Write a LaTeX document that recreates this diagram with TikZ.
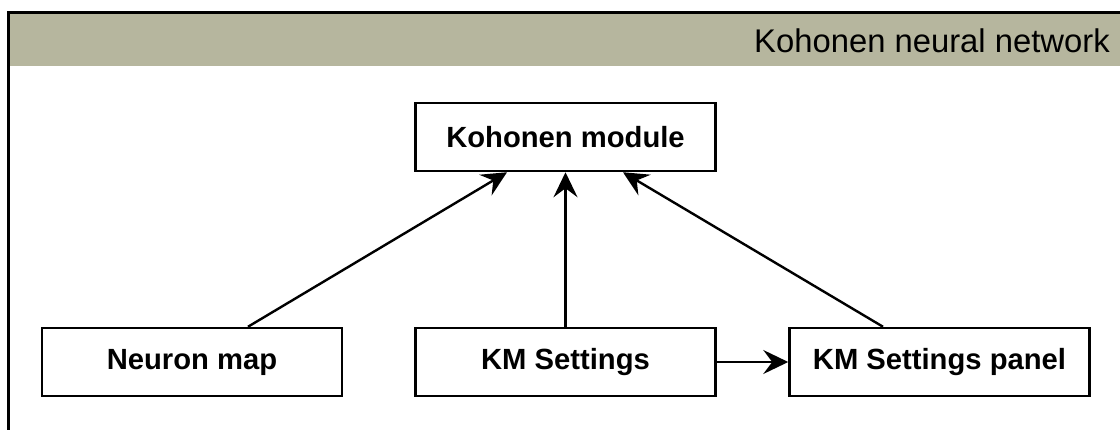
\documentclass[tikz,border=0pt]{standalone}
\usepackage{fontspec}
\setmainfont{Liberation Sans}
\usetikzlibrary{arrows.meta}
\definecolor{headercol}{RGB}{182,182,158}
\begin{document}
\begin{tikzpicture}[x=1pt,y=-1pt,
  box/.style={draw=black, line width=2.5pt, fill=white, minimum width=300pt, minimum height=68pt, inner sep=0pt, font=\fontsize{29.2}{33}\selectfont\bfseries},
  conn/.style={line width=2.4pt, -{Stealth[length=25pt,width=24pt,inset=9pt]}},
  titletext/.style={anchor=base east, inner sep=0pt, font=\fontsize{32.8}{38}\selectfont}]
\clip (0,0) rectangle (1120,429);
\fill[white] (0,0) rectangle (1120,429);
\fill[headercol] (8.5,12.5) rectangle (1130,66);
\draw[line width=2.8pt] (8.5,440) -- (8.5,12.5) -- (1130,12.5);
\node[titletext] (title) at (1110,52) {Kohonen neural network};
\node[box] (km) at (565.5,137) {Kohonen module};
\node[box] (nm) at (192,362) {Neuron map};
\node[box] (kms) at (565.5,362) {KM Settings};
\node[box] (kmp) at (939.5,362) {KM Settings panel};
\draw[conn] ([xshift=56pt]nm.north) -- ([xshift=-58.5pt]km.south);
\draw[conn] (kms.north) -- (km.south);
\draw[conn] ([xshift=-56.5pt]kmp.north) -- ([xshift=57.5pt]km.south);
\draw[conn] (kms.east) -- (kmp.west);
\end{tikzpicture}
\end{document}
